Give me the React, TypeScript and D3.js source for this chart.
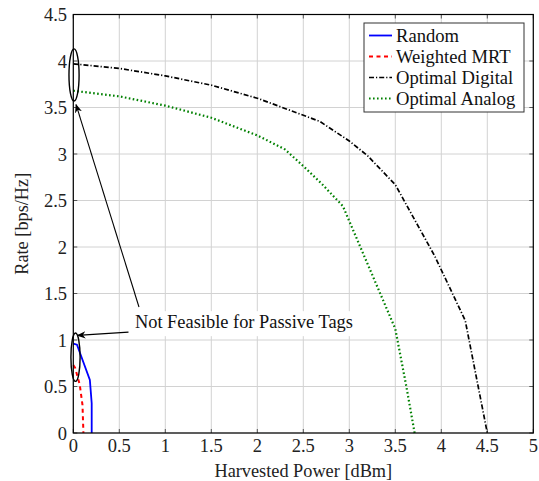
import React from "react";
import * as d3 from "d3";

const W = 539;
const H = 481;

const xTicks = [0, 0.5, 1, 1.5, 2, 2.5, 3, 3.5, 4, 4.5, 5];
const yTicks = [0, 0.5, 1, 1.5, 2, 2.5, 3, 3.5, 4, 4.5];
const xTickLabels = ["0", "0.5", "1", "1.5", "2", "2.5", "3", "3.5", "4", "4.5", "5"];
const yTickLabels = ["0", "0.5", "1", "1.5", "2", "2.5", "3", "3.5", "4", "4.5"];

const randomData: [number, number][] = [
  [0, 0.96], [0.04, 0.95], [0.18, 0.57], [0.2, 0.32], [0.2, 0],
];
const mrtData: [number, number][] = [
  [0, 0.73], [0.02, 0.7], [0.07, 0.52], [0.1, 0.3], [0.11, 0],
];
const digitalData: [number, number][] = [
  [0, 3.97], [0.5, 3.92], [1, 3.84], [1.5, 3.74], [2, 3.6], [2.3, 3.49],
  [2.68, 3.35], [3.0, 3.14], [3.2, 2.98], [3.5, 2.67], [3.93, 1.9],
  [4.26, 1.21], [4.5, 0],
];
const analogData: [number, number][] = [
  [0, 3.68], [0.5, 3.62], [1, 3.52], [1.5, 3.39], [2, 3.2], [2.3, 3.05],
  [2.5, 2.87], [2.7, 2.68], [2.93, 2.44], [3.5, 1.12], [3.62, 0.5], [3.71, 0],
];

const seriesNames = ["Random", "Weighted MRT", "Optimal Digital", "Optimal Analog"];

const annotationText = "Not Feasible for Passive Tags";

const FONT = "Liberation Serif, DejaVu Serif, serif";

export default function App() {
  const x = d3.scaleLinear().domain([0, 5]).range([73.3, 533.3]);
  const y = d3.scaleLinear().domain([0, 4.5]).range([433, 14.5]);
  const line = d3
    .line<[number, number]>()
    .x((d) => x(d[0]))
    .y((d) => y(d[1]));

  const series = [
    { name: seriesNames[0], data: randomData, color: "#0000ff", dash: "", width: 1.8 },
    { name: seriesNames[1], data: mrtData, color: "#ff0000", dash: "4,3.5", width: 2 },
    { name: seriesNames[2], data: digitalData, color: "#000000", dash: "5,2,1.2,2", width: 1.7 },
    { name: seriesNames[3], data: analogData, color: "#008000", dash: "1.6,2.4", width: 2.2 },
  ];

  const [x0, x1] = x.range();
  const [y0, y1] = y.range();

  const ell1 = { cx: 0.008, cy: 3.85, rx: 0.055, ry: 0.28 };
  const ell2 = { cx: 0.024, cy: 0.815, rx: 0.05, ry: 0.26 };
  const arrow1 = { from: [0.714, 1.355], to: [0.03, 3.53] };
  const arrow2 = { from: [0.6, 1.085], to: [0.045, 1.05] };
  const textPos = [0.67, 1.127];

  const legendX = 364;
  const legendY = 23;
  const legendW = 160;
  const legendH = 89;

  const ts = { fontFamily: FONT } as React.CSSProperties;

  return (
    <svg
      width={W}
      height={H}
      style={{ position: "absolute", left: 0, top: 0, background: "#fff", fontFamily: FONT }}
    >
      <defs>
        <marker
          id="ah"
          viewBox="0 0 10 10"
          refX="9"
          refY="5"
          markerWidth="9"
          markerHeight="9"
          markerUnits="userSpaceOnUse"
          orient="auto"
        >
          <path d="M0,1 L10,5 L0,9 L3,5 Z" fill="#000" />
        </marker>
      </defs>
      <rect x={0} y={0} width={W} height={H} fill="#fff" />
      {xTicks.map((t) => (
        <line key={"gx" + t} x1={x(t)} x2={x(t)} y1={y0} y2={y1} stroke="#d2d2d2" strokeWidth={1} />
      ))}
      {yTicks.map((t) => (
        <line key={"gy" + t} x1={x0} x2={x1} y1={y(t)} y2={y(t)} stroke="#d2d2d2" strokeWidth={1} />
      ))}
      {xTicks.map((t) => (
        <g key={"tx" + t}>
          <line x1={x(t)} x2={x(t)} y1={y0} y2={y0 - 4} stroke="#555" strokeWidth={1} />
          <line x1={x(t)} x2={x(t)} y1={y1} y2={y1 + 4} stroke="#555" strokeWidth={1} />
        </g>
      ))}
      {yTicks.map((t) => (
        <g key={"ty" + t}>
          <line x1={x0} x2={x0 + 4} y1={y(t)} y2={y(t)} stroke="#555" strokeWidth={1} />
          <line x1={x1} x2={x1 - 4} y1={y(t)} y2={y(t)} stroke="#555" strokeWidth={1} />
        </g>
      ))}
      <rect x={x(textPos[0]) - 4} y={y(textPos[1]) - 17} width={228} height={25} fill="#fff" />
      {series.map((s) => (
        <path
          key={s.name}
          d={line(s.data) || ""}
          fill="none"
          stroke={s.color}
          strokeWidth={s.width}
          strokeDasharray={s.dash || undefined}
        />
      ))}
      <rect x={x0} y={y1} width={x1 - x0} height={y0 - y1} fill="none" stroke="#000" strokeWidth={1.2} />
      {xTicks.map((t, i) => (
        <text key={"lx" + t} x={x(t)} y={452} textAnchor="middle" style={ts} fontSize={18.5} fill="#222">
          {xTickLabels[i]}
        </text>
      ))}
      {yTicks.map((t, i) => (
        <text key={"ly" + t} x={67} y={y(t) + 6.5} textAnchor="end" style={ts} fontSize={18.5} fill="#222">
          {yTickLabels[i]}
        </text>
      ))}
      <text x={(x0 + x1) / 2} y={477} textAnchor="middle" style={ts} fontSize={18.3} fill="#222">
        Harvested Power [dBm]
      </text>
      <text
        transform={`translate(28,${(y0 + y1) / 2}) rotate(-90)`}
        textAnchor="middle"
        style={ts}
        fontSize={18.3}
        fill="#222"
      >
        Rate [bps/Hz]
      </text>
      {[ell1, ell2].map((e, i) => (
        <ellipse
          key={"e" + i}
          cx={x(e.cx)}
          cy={y(e.cy)}
          rx={x(e.rx) - x(0)}
          ry={y(0) - y(e.ry)}
          fill="none"
          stroke="#000"
          strokeWidth={1.4}
        />
      ))}
      {[arrow1, arrow2].map((a, i) => (
        <line
          key={"a" + i}
          x1={x(a.from[0])}
          y1={y(a.from[1])}
          x2={x(a.to[0])}
          y2={y(a.to[1])}
          stroke="#000"
          strokeWidth={1.1}
          markerEnd="url(#ah)"
        />
      ))}
      <text x={x(textPos[0])} y={y(textPos[1])} style={ts} fontSize={18.4} fill="#111">
        {annotationText}
      </text>
      <rect x={legendX} y={legendY} width={legendW} height={legendH} fill="#fff" stroke="#333" strokeWidth={1} />
      {series.map((s, i) => {
        const cy = legendY + 12.5 + i * 21;
        return (
          <g key={"lg" + s.name}>
            <line
              x1={legendX + 5}
              x2={legendX + 28}
              y1={cy}
              y2={cy}
              stroke={s.color}
              strokeWidth={s.width}
              strokeDasharray={s.dash || undefined}
            />
            <text x={legendX + 32} y={cy + 6} style={ts} fontSize={18.6} fill="#111">
              {s.name}
            </text>
          </g>
        );
      })}
    </svg>
  );
}
